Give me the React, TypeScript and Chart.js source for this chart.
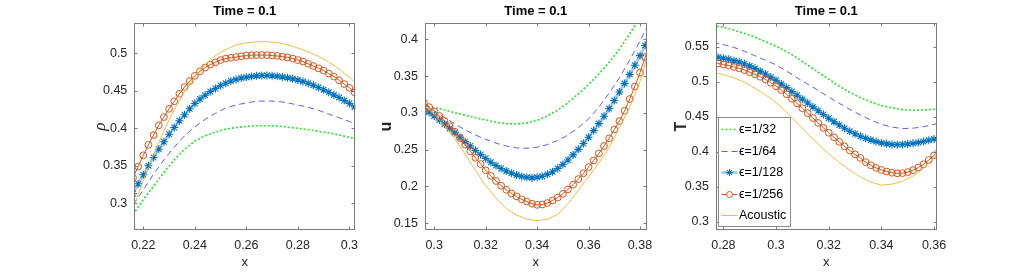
import React, { useEffect, useRef } from "react";
import { Chart, registerables } from "chart.js";

Chart.register(...registerables);

const FONT = "'Liberation Sans', Arial, Helvetica, sans-serif";
Chart.defaults.font.family = FONT;

// ---------------- shared text ----------------
const seriesLabels = ["\u03f5=1/32", "\u03f5=1/64", "\u03f5=1/128", "\u03f5=1/256", "Acoustic"];
const panelTitle = "Time = 0.1";
const xAxisLabel = "x";

// ---------------- panel 1 : rho ----------------
const rhoXFine = [0.216, 0.218, 0.22, 0.222, 0.224, 0.226, 0.228, 0.23, 0.232, 0.234, 0.236, 0.238, 0.24, 0.242, 0.244, 0.246, 0.248, 0.25, 0.252, 0.254, 0.256, 0.258, 0.26, 0.262, 0.264, 0.266, 0.268, 0.27, 0.272, 0.274, 0.276, 0.278, 0.28, 0.282, 0.284, 0.286, 0.288, 0.29, 0.292, 0.294, 0.296, 0.298, 0.3, 0.302, 0.304];
const rhoXCoarse = [0.216, 0.22, 0.224, 0.228, 0.232, 0.236, 0.24, 0.244, 0.248, 0.252, 0.256, 0.26, 0.264, 0.268, 0.272, 0.276, 0.28, 0.284, 0.288, 0.292, 0.296, 0.3, 0.304];
const rhoEps32 = [0.285, 0.305, 0.323, 0.341, 0.358, 0.372, 0.383, 0.39, 0.395, 0.399, 0.401, 0.4025, 0.4035, 0.4035, 0.403, 0.4015, 0.4, 0.398, 0.396, 0.394, 0.391, 0.388, 0.385];
const rhoEps64 = [0.298, 0.318, 0.339, 0.358, 0.375, 0.39, 0.402, 0.412, 0.42, 0.427, 0.431, 0.434, 0.436, 0.4365, 0.436, 0.434, 0.431, 0.428, 0.424, 0.419, 0.414, 0.409, 0.404];
const rhoEps128 = [0.313, 0.326, 0.338, 0.35, 0.361, 0.372, 0.382, 0.392, 0.401, 0.41, 0.418, 0.426, 0.433, 0.439, 0.444, 0.449, 0.453, 0.457, 0.46, 0.463, 0.465, 0.467, 0.468, 0.469, 0.47, 0.4705, 0.4705, 0.47, 0.4695, 0.4685, 0.4675, 0.466, 0.4645, 0.4625, 0.46, 0.4575, 0.4545, 0.4515, 0.448, 0.4445, 0.441, 0.437, 0.433, 0.4285, 0.424];
const rhoEps256 = [0.334, 0.349, 0.364, 0.378, 0.391, 0.404, 0.415, 0.426, 0.436, 0.446, 0.455, 0.463, 0.47, 0.476, 0.481, 0.485, 0.488, 0.491, 0.493, 0.494, 0.495, 0.496, 0.497, 0.4975, 0.4977, 0.4977, 0.4975, 0.497, 0.4965, 0.4955, 0.4945, 0.493, 0.491, 0.489, 0.486, 0.483, 0.48, 0.477, 0.473, 0.469, 0.464, 0.459, 0.454, 0.448, 0.443];
const rhoAcoustic = [0.293, 0.33, 0.365, 0.397, 0.425, 0.449, 0.469, 0.485, 0.497, 0.505, 0.511, 0.514, 0.5155, 0.5155, 0.514, 0.5115, 0.507, 0.502, 0.496, 0.488, 0.479, 0.468, 0.456];
const rhoXTicks = [0.22, 0.24, 0.26, 0.28, 0.3];
const rhoYTicks = [0.3, 0.35, 0.4, 0.45, 0.5];

// ---------------- panel 2 : u ----------------
const uXFine = [0.296, 0.298, 0.3, 0.302, 0.304, 0.306, 0.308, 0.31, 0.312, 0.314, 0.316, 0.318, 0.32, 0.322, 0.324, 0.326, 0.328, 0.33, 0.332, 0.334, 0.336, 0.338, 0.34, 0.342, 0.344, 0.346, 0.348, 0.35, 0.352, 0.354, 0.356, 0.358, 0.36, 0.362, 0.364, 0.366, 0.368, 0.37, 0.372, 0.374, 0.376, 0.378, 0.38, 0.382, 0.384];
const uXCoarse = [0.296, 0.3, 0.304, 0.308, 0.312, 0.316, 0.32, 0.324, 0.328, 0.332, 0.336, 0.34, 0.344, 0.348, 0.352, 0.356, 0.36, 0.364, 0.368, 0.372, 0.376, 0.38, 0.384];
const uEps32 = [0.31, 0.3075, 0.304, 0.3005, 0.297, 0.2935, 0.2905, 0.2875, 0.2855, 0.285, 0.2865, 0.29, 0.296, 0.304, 0.314, 0.326, 0.339, 0.353, 0.369, 0.387, 0.408, 0.43, 0.452];
const uEps64 = [0.312, 0.303, 0.294, 0.285, 0.277, 0.27, 0.264, 0.259, 0.255, 0.2525, 0.252, 0.2535, 0.257, 0.2625, 0.27, 0.28, 0.292, 0.308, 0.327, 0.348, 0.372, 0.398, 0.426];
const uEps128 = [0.306, 0.301, 0.296, 0.2905, 0.285, 0.279, 0.273, 0.267, 0.261, 0.255, 0.249, 0.2435, 0.238, 0.233, 0.2285, 0.2245, 0.221, 0.218, 0.2155, 0.2135, 0.2125, 0.212, 0.2125, 0.214, 0.2165, 0.22, 0.2245, 0.23, 0.236, 0.243, 0.2505, 0.2585, 0.267, 0.276, 0.2855, 0.2955, 0.306, 0.317, 0.3285, 0.34, 0.3525, 0.365, 0.378, 0.392, 0.406];
const uEps256 = [0.314, 0.308, 0.302, 0.296, 0.289, 0.282, 0.2745, 0.266, 0.257, 0.248, 0.239, 0.2305, 0.222, 0.2145, 0.2075, 0.201, 0.1955, 0.1905, 0.1865, 0.1825, 0.1795, 0.1765, 0.175, 0.1755, 0.1775, 0.181, 0.185, 0.19, 0.196, 0.2025, 0.21, 0.218, 0.2265, 0.2355, 0.245, 0.255, 0.2655, 0.2775, 0.289, 0.303, 0.319, 0.336, 0.355, 0.376, 0.397];
const uAcoustic = [0.311, 0.298, 0.283, 0.265, 0.244, 0.222, 0.201, 0.184, 0.17, 0.161, 0.1555, 0.1535, 0.1555, 0.162, 0.177, 0.195, 0.213, 0.232, 0.253, 0.28, 0.308, 0.343, 0.39];
const uXTicks = [0.3, 0.32, 0.34, 0.36, 0.38];
const uYTicks = [0.15, 0.2, 0.25, 0.3, 0.35, 0.4];

// ---------------- panel 3 : T ----------------
const tXFine = [0.276, 0.278, 0.28, 0.282, 0.284, 0.286, 0.288, 0.29, 0.292, 0.294, 0.296, 0.298, 0.3, 0.302, 0.304, 0.306, 0.308, 0.31, 0.312, 0.314, 0.316, 0.318, 0.32, 0.322, 0.324, 0.326, 0.328, 0.33, 0.332, 0.334, 0.336, 0.338, 0.34, 0.342, 0.344, 0.346, 0.348, 0.35, 0.352, 0.354, 0.356, 0.358, 0.36, 0.362];
const tXCoarse = [0.276, 0.28, 0.284, 0.288, 0.292, 0.296, 0.3, 0.304, 0.308, 0.312, 0.316, 0.32, 0.324, 0.328, 0.332, 0.336, 0.34, 0.344, 0.348, 0.352, 0.356, 0.36, 0.364];
const tEps32 = [0.58, 0.5775, 0.5735, 0.569, 0.5635, 0.557, 0.5505, 0.543, 0.534, 0.5235, 0.5135, 0.5035, 0.4935, 0.4845, 0.477, 0.471, 0.466, 0.4625, 0.46, 0.459, 0.4595, 0.4605, 0.462];
const tEps64 = [0.556, 0.553, 0.549, 0.5435, 0.537, 0.5305, 0.524, 0.515, 0.5055, 0.4965, 0.4875, 0.478, 0.469, 0.4605, 0.4525, 0.445, 0.439, 0.435, 0.433, 0.4335, 0.4355, 0.439, 0.443];
const tEps128 = [0.5365, 0.535, 0.5335, 0.532, 0.53, 0.528, 0.5255, 0.5225, 0.519, 0.515, 0.511, 0.5065, 0.502, 0.4968, 0.4915, 0.486, 0.4805, 0.475, 0.4695, 0.464, 0.4585, 0.453, 0.4478, 0.4428, 0.438, 0.4335, 0.4292, 0.4255, 0.422, 0.419, 0.4165, 0.4143, 0.4125, 0.4112, 0.4103, 0.41, 0.4102, 0.4108, 0.4118, 0.413, 0.4145, 0.4162, 0.418, 0.42];
const tEps256 = [0.527, 0.526, 0.5245, 0.523, 0.521, 0.519, 0.5165, 0.5135, 0.5105, 0.507, 0.503, 0.4985, 0.4935, 0.488, 0.482, 0.4755, 0.469, 0.462, 0.455, 0.448, 0.441, 0.434, 0.427, 0.4205, 0.414, 0.4075, 0.4015, 0.396, 0.391, 0.385, 0.3805, 0.3768, 0.3738, 0.3715, 0.3698, 0.369, 0.3693, 0.3708, 0.3735, 0.3772, 0.382, 0.388, 0.3948, 0.402];
const tAcoustic = [0.5135, 0.51, 0.5055, 0.499, 0.4905, 0.481, 0.4705, 0.4565, 0.441, 0.4255, 0.411, 0.397, 0.3845, 0.3735, 0.364, 0.3565, 0.352, 0.3535, 0.3575, 0.365, 0.376, 0.391, 0.408];
const tXTicks = [0.28, 0.3, 0.32, 0.34, 0.36];
const tYTicks = [0.3, 0.35, 0.4, 0.45, 0.5, 0.55];

// ---------------- styling ----------------
const GREEN = "#22e622";
const DASH_BLUE = "#5c5cff";
const STAR_BLUE = "#0072BD";
const STAR_LINE = "rgba(0,114,189,0.35)";
const RED = "#D95319";
const ACOUSTIC = "rgba(237,177,32,0.85)";
const TICK_COLOR = "#262626";
const FRAME_COLOR = "#7a7a7a";

const zip = (xs: number[], ys: number[]) => xs.map((x, i) => ({ x, y: ys[i] }));

function buildDatasets(xc: number[], xf: number[], s32: number[], s64: number[], s128: number[], s256: number[], sAc: number[]) {
  return [
    { label: seriesLabels[0], data: zip(xc, s32), borderColor: GREEN, borderWidth: 1.6, borderDash: [2, 2], pointRadius: 0, order: 4, fill: false, tension: 0 },
    { label: seriesLabels[1], data: zip(xc, s64), borderColor: DASH_BLUE, borderWidth: 1, borderDash: [6, 4], pointRadius: 0, order: 3, fill: false, tension: 0 },
    { label: seriesLabels[2], data: zip(xf, s128), borderColor: STAR_LINE, borderWidth: 3, pointStyle: "star", pointRadius: 4, pointBorderColor: STAR_BLUE, pointBackgroundColor: STAR_BLUE, pointBorderWidth: 1.1, order: 2, fill: false, tension: 0 },
    { label: seriesLabels[3], data: zip(xf, s256), borderColor: RED, borderWidth: 1, pointStyle: "circle", pointRadius: 3.4, pointBorderColor: RED, pointBackgroundColor: "rgba(255,255,255,0)", pointBorderWidth: 1, order: 1, fill: false, tension: 0 },
    { label: seriesLabels[4], data: zip(xc, sAc), borderColor: ACOUSTIC, borderWidth: 1, pointRadius: 0, order: 0, fill: false, tension: 0 },
  ];
}

// frame + inward ticks like MATLAB boxed axes
const framePlugin = {
  id: "matlabFrame",
  afterDatasetsDraw(chart: any) {
    const { ctx, chartArea, scales } = chart;
    const l = Math.round(chartArea.left) + 0.5;
    const r = Math.round(chartArea.right) - 0.5;
    const t = Math.round(chartArea.top) + 0.5;
    const b = Math.round(chartArea.bottom) - 0.5;
    ctx.save();
    ctx.strokeStyle = FRAME_COLOR;
    ctx.lineWidth = 1;
    ctx.setLineDash([]);
    ctx.strokeRect(l, t, r - l, b - t);
    ctx.beginPath();
    const tl = 3;
    scales.x.ticks.forEach((tk: any) => {
      const px = Math.round(scales.x.getPixelForValue(tk.value)) + 0.5;
      ctx.moveTo(px, b); ctx.lineTo(px, b - tl);
      ctx.moveTo(px, t); ctx.lineTo(px, t + tl);
    });
    scales.y.ticks.forEach((tk: any) => {
      const py = Math.round(scales.y.getPixelForValue(tk.value)) + 0.5;
      ctx.moveTo(l, py); ctx.lineTo(l + tl, py);
      ctx.moveTo(r, py); ctx.lineTo(r - tl, py);
    });
    ctx.stroke();
    ctx.restore();
  },
};

// boxed legend at lower-left of the chart area (panel 3)
const boxLegendPlugin = {
  id: "boxLegend",
  afterDraw(chart: any) {
    const { ctx, chartArea } = chart;
    const x0 = Math.round(chartArea.left) + 2.5;
    const w = 72;
    const h = 109;
    const y1 = Math.round(chartArea.bottom) - 3.5;
    const y0 = y1 - h;
    ctx.save();
    ctx.fillStyle = "#ffffff";
    ctx.fillRect(x0, y0, w, h);
    ctx.strokeStyle = "#8c8c8c";
    ctx.lineWidth = 1;
    ctx.setLineDash([]);
    ctx.strokeRect(x0, y0, w, h);
    chart.data.datasets.forEach((ds: any, i: number) => {
      const cy = Math.round(y0 + 11.5 + i * 21.6) + 0.5;
      ctx.save();
      ctx.strokeStyle = ds.borderColor;
      ctx.lineWidth = ds.borderWidth;
      ctx.setLineDash(ds.borderDash || []);
      ctx.beginPath();
      ctx.moveTo(x0 + 3, cy);
      ctx.lineTo(x0 + 19, cy);
      ctx.stroke();
      ctx.restore();
      const mx = x0 + 11;
      if (ds.pointStyle === "star") {
        ctx.save();
        ctx.strokeStyle = ds.pointBorderColor;
        ctx.lineWidth = 1;
        ctx.beginPath();
        const rr = 3.5;
        for (let k = 0; k < 4; k++) {
          const a = (k * Math.PI) / 4;
          ctx.moveTo(mx - rr * Math.cos(a), cy - rr * Math.sin(a));
          ctx.lineTo(mx + rr * Math.cos(a), cy + rr * Math.sin(a));
        }
        ctx.stroke();
        ctx.restore();
      } else if (ds.pointStyle === "circle" && ds.pointRadius > 0) {
        ctx.save();
        ctx.strokeStyle = ds.pointBorderColor;
        ctx.lineWidth = 1;
        ctx.beginPath();
        ctx.arc(mx, cy, 3, 0, Math.PI * 2);
        ctx.fillStyle = "#fff";
        ctx.fill();
        ctx.stroke();
        ctx.restore();
      }
      ctx.fillStyle = "#000";
      ctx.font = `12.5px ${FONT}`;
      ctx.textBaseline = "middle";
      ctx.textAlign = "left";
      ctx.fillText(ds.label, x0 + 20.5, cy);
    });
    ctx.restore();
  },
};

type PanelCfg = {
  left: number;
  width: number;
  yAxisWidth: number;
  rightPad: number;
  xMin: number;
  xMax: number;
  yMin: number;
  yMax: number;
  xTicks: number[];
  yTicks: number[];
  yTitle: string;
  yTitleFont: any;
  yTitlePad: number;
  datasets: any[];
  legend: boolean;
};

const panels: PanelCfg[] = [
  {
    left: 85, width: 300, yAxisWidth: 49.3, rightPad: 29.7,
    xMin: 0.2165, xMax: 0.3023, yMin: 0.2644, yMax: 0.54,
    xTicks: rhoXTicks, yTicks: rhoYTicks,
    yTitle: "\u03c1",
    yTitleFont: { family: "'Liberation Serif', 'DejaVu Serif', serif", style: "italic", size: 17 },
    yTitlePad: 5,
    datasets: buildDatasets(rhoXCoarse, rhoXFine, rhoEps32, rhoEps64, rhoEps128, rhoEps256, rhoAcoustic),
    legend: false,
  },
  {
    left: 376, width: 300, yAxisWidth: 49, rightPad: 29.3,
    xMin: 0.2964, xMax: 0.3826, yMin: 0.1408, yMax: 0.422,
    xTicks: uXTicks, yTicks: uYTicks,
    yTitle: "u",
    yTitleFont: { family: FONT, weight: "bold", size: 16 },
    yTitlePad: 1.1,
    datasets: buildDatasets(uXCoarse, uXFine, uEps32, uEps64, uEps128, uEps256, uAcoustic),
    legend: false,
  },
  {
    left: 666, width: 300, yAxisWidth: 50, rightPad: 29.3,
    xMin: 0.2772, xMax: 0.361, yMin: 0.288, yMax: 0.5834,
    xTicks: tXTicks, yTicks: tYTicks,
    yTitle: "T",
    yTitleFont: { family: FONT, weight: "bold", size: 16 },
    yTitlePad: 6.4,
    datasets: buildDatasets(tXCoarse, tXFine, tEps32, tEps64, tEps128, tEps256, tAcoustic),
    legend: true,
  },
];

function Panel({ cfg }: { cfg: PanelCfg }) {
  const ref = useRef<HTMLCanvasElement | null>(null);
  useEffect(() => {
    if (!ref.current) return;
    const plugins: any[] = [framePlugin];
    if (cfg.legend) plugins.push(boxLegendPlugin);
    const chart = new Chart(ref.current, {
      type: "line",
      data: { datasets: cfg.datasets as any },
      plugins,
      options: {
        responsive: false,
        animation: false,
        events: [],
        layout: { padding: { left: 0, right: cfg.rightPad, top: 3.5, bottom: 0 } },
        plugins: {
          legend: { display: false },
          tooltip: { enabled: false },
          title: {
            display: true,
            text: panelTitle,
            fullSize: false,
            color: "#000",
            font: { family: FONT, size: 13, weight: "bold" },
            padding: { top: 0, bottom: 4.2 },
          },
        },
        scales: {
          x: {
            type: "linear",
            min: cfg.xMin,
            max: cfg.xMax,
            grid: { display: false, drawTicks: false },
            border: { display: false },
            afterBuildTicks: (s: any) => { s.ticks = cfg.xTicks.map((v) => ({ value: v })); },
            afterFit: (s: any) => { s.height = 43; },
            ticks: { padding: 8.3, color: TICK_COLOR, font: { size: 12.5 }, maxRotation: 0, autoSkip: false, callback: (v: any) => String(v) },
            title: { display: true, text: xAxisLabel, color: TICK_COLOR, font: { size: 13 }, padding: { top: 0, bottom: 2.5 } },
          },
          y: {
            type: "linear",
            min: cfg.yMin,
            max: cfg.yMax,
            grid: { display: false, drawTicks: false },
            border: { display: false },
            afterBuildTicks: (s: any) => { s.ticks = cfg.yTicks.map((v) => ({ value: v })); },
            afterFit: (s: any) => { s.width = cfg.yAxisWidth; },
            ticks: { padding: 7, color: TICK_COLOR, font: { size: 12.5 }, autoSkip: false, callback: (v: any) => String(v) },
            title: { display: true, text: cfg.yTitle, color: TICK_COLOR, font: cfg.yTitleFont, padding: { top: cfg.yTitlePad, bottom: 0 } },
          },
        },
      } as any,
    });
    return () => chart.destroy();
  }, [cfg]);
  return (
    <div style={{ position: "absolute", left: cfg.left, top: 0, width: cfg.width, height: 273 }}>
      <canvas ref={ref} width={cfg.width} height={273} style={{ display: "block" }} />
    </div>
  );
}

export default function App() {
  return (
    <div style={{ position: "fixed", left: 0, top: 0, width: 1035, height: 273, background: "#fff", overflow: "hidden" }}>
      {panels.map((p, i) => (
        <Panel key={i} cfg={p} />
      ))}
    </div>
  );
}
